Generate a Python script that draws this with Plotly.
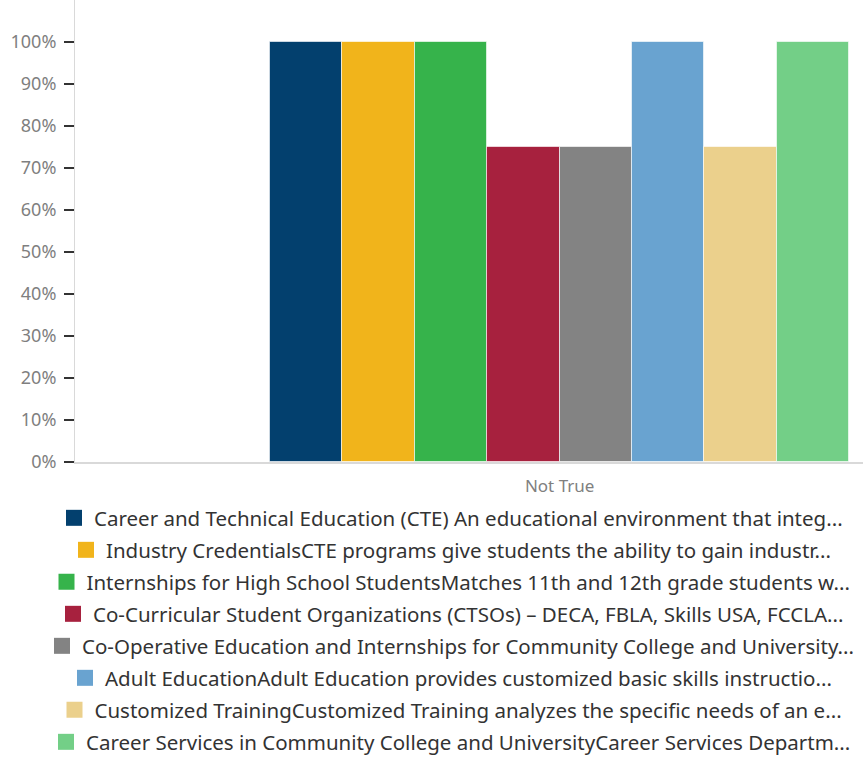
import plotly.graph_objects as go

category = ["Not True"]
series_names = [
    "Career and Technical Education (CTE) An educational environment that integ...",
    "Industry CredentialsCTE programs give students the ability to gain industr...",
    "Internships for High School StudentsMatches 11th and 12th grade students w...",
    "Co-Curricular Student Organizations (CTSOs) – DECA, FBLA, Skills USA, FCCLA...",
    "Co-Operative Education and Internships for Community College and University...",
    "Adult EducationAdult Education provides customized basic skills instructio...",
    "Customized TrainingCustomized Training analyzes the specific needs of an e...",
    "Career Services in Community College and UniversityCareer Services Departm...",
]
series_values = [100, 100, 100, 75, 75, 100, 75, 100]
colors = ["#03406e", "#f1b41b", "#36b34b", "#a7213e", "#838383", "#69a3d0", "#ebd08c", "#73cf87"]

W, H = 864, 762
FONT = "Noto Sans"

fig = go.Figure()
for i, (name, val) in enumerate(zip(series_names, series_values)):
    key = "legend" if i == 0 else f"legend{i + 1}"
    fig.add_trace(go.Bar(
        x=category, y=[val], name=name, legendgroup=name, showlegend=False,
        marker=dict(color=colors[i], line=dict(color="rgba(255,255,255,0.6)", width=1)),
    ))
    # legend-only entry so the swatch can be the bigger square of the original
    fig.add_trace(go.Scatter(
        x=[None], y=[None], mode="markers", name=name, legendgroup=name,
        marker=dict(symbol="square", size=16, color=colors[i]),
        legend=key,
    ))

# one legend per row so each line is centred on its own, like the original
row_y = [518, 550, 582, 614, 646, 678, 710, 742]
legends = {}
for i, py in enumerate(row_y):
    key = "legend" if i == 0 else f"legend{i + 1}"
    legends[key] = dict(
        xref="container", yref="container",
        x=451 / W, xanchor="center",
        y=1 - py / H, yanchor="middle",
        font=dict(family=FONT, size=20.5, color="#333333"),
        bgcolor="rgba(0,0,0,0)",
        itemclick=False, itemdoubleclick=False,
    )

fig.update_layout(
    width=W, height=H,
    barmode="group", bargap=0, bargroupgap=0,
    plot_bgcolor="white", paper_bgcolor="white",
    margin=dict(l=75, r=1, t=0, b=300, autoexpand=False),
    font=dict(family=FONT),
    showlegend=True,
    **legends,
)
fig.update_xaxes(
    type="category", range=[-0.837, 0.524],
    showline=True, linecolor="#d9d9d9", linewidth=2,
    ticks="", ticklabelstandoff=8,
    tickfont=dict(size=17, color="#808080"),
    showgrid=False, fixedrange=True,
)
fig.update_yaxes(
    range=[0, 110], tickvals=list(range(0, 101, 10)),
    ticktext=[f"{v}%" for v in range(0, 101, 10)],
    showline=True, linecolor="#d9d9d9", linewidth=1,
    ticks="outside", ticklen=10, tickwidth=2, tickcolor="#333333",
    ticklabelstandoff=4,
    tickfont=dict(size=18, color="#7f7f7f"),
    showgrid=False, zeroline=False,
)

fig.write_html(
    "out.html",
    config={"displayModeBar": False},
    post_script="document.body.style.margin='0';",
)
